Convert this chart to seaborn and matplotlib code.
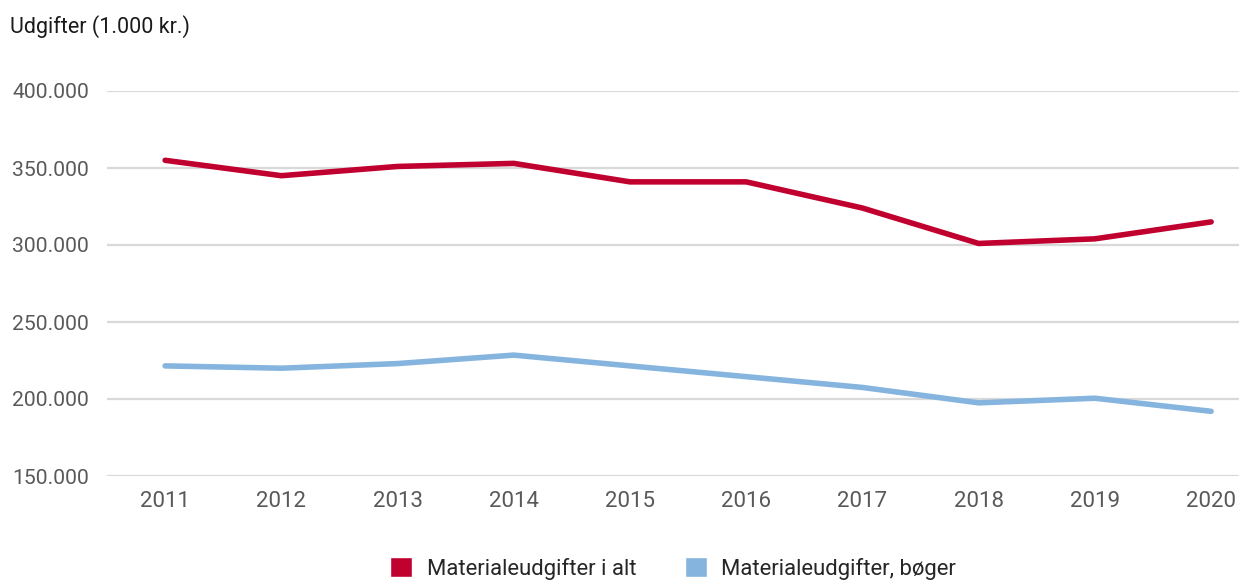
import pandas as pd
import seaborn as sns
import matplotlib.pyplot as plt
from matplotlib.patches import Patch
from matplotlib.ticker import FuncFormatter

# data (1.000 kr.)
years = [2011, 2012, 2013, 2014, 2015, 2016, 2017, 2018, 2019, 2020]
i_alt = [355, 345, 351, 353, 341, 341, 324, 301, 304, 315]
boger = [221.5, 220, 223, 228.5, 221.5, 214.5, 207.5, 197.5, 200.5, 192]
series = ['Materialeudgifter i alt', 'Materialeudgifter, bøger']
colors = ['#C0002F', '#85B5DE']

df = pd.DataFrame({
    'år': [str(y) for y in years] * 2,
    'udgifter': [v * 1000 for v in i_alt + boger],
    'serie': [series[0]] * len(years) + [series[1]] * len(years),
})

sns.set_style('white')
plt.rcParams['font.family'] = ['Roboto', 'DejaVu Sans']

fig = plt.figure(figsize=(12.39, 5.81), dpi=100)
ax = fig.add_axes([107 / 1239, 105 / 581, 1 - 107 / 1239, 385 / 581])

sns.lineplot(data=df, x='år', y='udgifter', hue='serie', palette=colors,
             linewidth=4, legend=False, ax=ax, solid_capstyle='round')

ax.set_ylim(150000, 400000)
ax.set_yticks([150000, 200000, 250000, 300000, 350000, 400000])
ax.yaxis.set_major_formatter(FuncFormatter(lambda v, p: f'{int(v):,}'.replace(',', '.')))
ax.set_xlim(-0.5, 9.24)
ax.grid(axis='y', color='#D9D9D9', linewidth=1.6)
ax.set_axisbelow(True)
for s in ax.spines.values():
    s.set_visible(False)
ax.tick_params(axis='y', length=0, pad=13, labelsize=15.2, labelcolor='#595959')
ax.tick_params(axis='x', length=0, pad=11, labelsize=16, labelcolor='#595959')
ax.set_xlabel('')
ax.set_ylabel('')

fig.text(10 / 1239, 1 - 27 / 581, 'Udgifter (1.000 kr.)', fontsize=15.5,
         color='#1a1a1a', va='center', ha='left')

handles = [Patch(facecolor=c, label=l) for c, l in zip(colors, series)]
ax.legend(handles=handles, loc='center', bbox_to_anchor=(0.5, -0.24),
          ncol=2, frameon=False, fontsize=15.9, handlelength=1.0, handleheight=1.0,
          columnspacing=2.2, handletextpad=0.64)

plt.savefig('out.png', dpi=100)
